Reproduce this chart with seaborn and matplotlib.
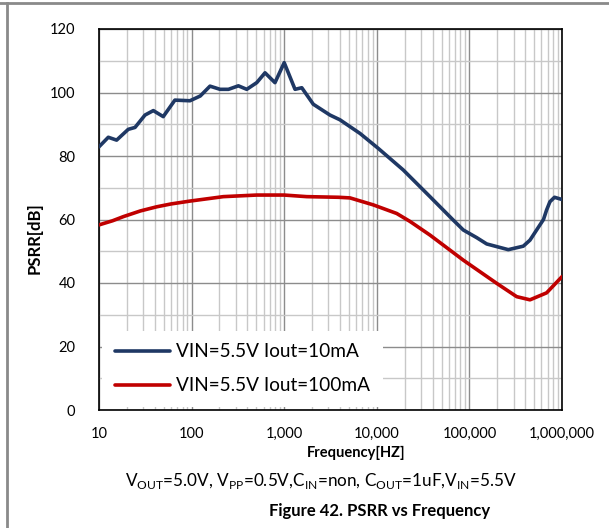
import numpy as np
import pandas as pd
import matplotlib.pyplot as plt
import matplotlib.ticker as mticker
from matplotlib.lines import Line2D
import seaborn as sns

# values
freq_10ma = [10, 12.6, 15.5, 20.7, 24.5, 31.4, 38.6, 49.4, 66, 96, 124, 158, 203, 250,
             320, 394, 505, 621, 795, 1000, 1309, 1548, 2062, 3119, 4000, 6590, 10370,
             19300, 37500, 67000, 85900, 119700, 153800, 263000, 382000, 451000, 532000,
             631000, 682000, 741000, 830000, 1000000]
psrr_10ma = [82.9, 85.9, 85.0, 88.4, 89.0, 92.9, 94.3, 92.4, 97.6, 97.4, 98.9, 102.0, 101.0, 101.0,
             102.1, 101.0, 103.1, 106.2, 103.1, 109.4, 101.0, 101.5, 96.3, 92.9, 91.4, 87.1, 82.4,
             75.6, 67.2, 59.8, 56.7, 54.3, 52.3, 50.5, 51.6, 53.5, 56.7,
             60.0, 63.0, 65.6, 67.0, 66.3]

freq_100ma = [10, 14, 18.3, 28, 42, 60, 96, 220, 505, 1000, 1750, 3838, 5140, 9170, 16400,
              22800, 37500, 85900, 197000, 324000, 451000, 682000, 1000000]
psrr_100ma = [58.3, 59.6, 60.9, 62.7, 64.0, 64.9, 65.8, 67.2, 67.7, 67.7, 67.2, 67.0, 66.8, 64.6, 61.9,
              59.4, 55.1, 47.2, 39.9, 35.7, 34.7, 36.9, 42.0]

labels = ["VIN=5.5V Iout=10mA", "VIN=5.5V Iout=100mA"]
colors = ["#1f3864", "#c00000"]

df = pd.concat([
    pd.DataFrame({"freq": freq_10ma, "psrr": psrr_10ma, "series": labels[0]}),
    pd.DataFrame({"freq": freq_100ma, "psrr": psrr_100ma, "series": labels[1]}),
])

plt.rcParams["font.family"] = ["Lato", "DejaVu Sans"]

fig = plt.figure(figsize=(6.09, 5.28), dpi=100)
ax = fig.add_axes([99 / 609, 1 - 410 / 528, 463 / 609, 381 / 528])

sns.lineplot(data=df, x="freq", y="psrr", hue="series", palette=colors,
             linewidth=2.6, sort=False, ax=ax, zorder=3)
for ln in ax.get_lines():
    ln.set_solid_capstyle("round")
    ln.set_solid_joinstyle("round")

ax.set_xscale("log")
ax.set_xlim(10, 1e6)
ax.set_ylim(0, 120)
ax.set_yticks(np.arange(0, 121, 20))
ax.yaxis.set_minor_locator(mticker.MultipleLocator(10))
ax.xaxis.set_major_formatter(mticker.FuncFormatter(lambda v, p: f"{int(round(v)):,}"))
ax.xaxis.set_minor_locator(mticker.LogLocator(base=10, subs=np.arange(2, 10)))
ax.xaxis.set_minor_formatter(mticker.NullFormatter())

ax.grid(which="major", color="#8c8c8c", linewidth=1.0)
ax.grid(which="minor", color="#c8c8c8", linewidth=1.0)
ax.set_axisbelow(True)
ax.tick_params(which="both", length=0, labelsize=10.5, colors="black")
ax.tick_params(axis="x", pad=12)
ax.tick_params(axis="y", pad=17)
for s in ax.spines.values():
    s.set_color("black")
    s.set_linewidth(1.2)

ax.set_xlabel("Frequency[HZ]", fontsize=10.5, fontweight="bold", labelpad=4)
ax.xaxis.label.set_position((0.555, 0))
ax.set_ylabel("")
fig.text(35 / 609, 1 - 238 / 528, "PSRR[dB]", rotation=90, fontsize=12,
         fontweight="bold", ha="center", va="center")

leg = ax.legend(loc="lower left", bbox_to_anchor=(0, 0), borderaxespad=0.15,
                fontsize=13.7, handlelength=2.9, handletextpad=0.3, labelspacing=0.88,
                frameon=True, fancybox=False, framealpha=1, borderpad=0.68)
leg.get_frame().set_edgecolor("none")
leg.get_frame().set_facecolor("white")
for h in leg.get_lines():
    h.set_linewidth(2.6)
    h.set_solid_capstyle("round")

fig.text(321 / 609, 1 - 481 / 528,
         r"V$_{\mathregular{OUT}}$=5.0V, V$_{\mathregular{PP}}$=0.5V,C$_{\mathregular{IN}}$=non, "
         r"C$_{\mathregular{OUT}}$=1uF,V$_{\mathregular{IN}}$=5.5V",
         fontsize=12.3, ha="center", va="center")
fig.text(380 / 609, 1 - 511 / 528, "Figure 42. PSRR vs Frequency", fontsize=12,
         fontweight="bold", ha="center", va="center")

# page border lines
fig.add_artist(Line2D([0, 1], [1 - 2.5 / 528] * 2, transform=fig.transFigure,
                      color="#8a8a8a", linewidth=2))
fig.add_artist(Line2D([7 / 609] * 2, [0, 1 - 2.5 / 528], transform=fig.transFigure,
                      color="#8a8a8a", linewidth=2))

fig.savefig("out.png", dpi=100)
